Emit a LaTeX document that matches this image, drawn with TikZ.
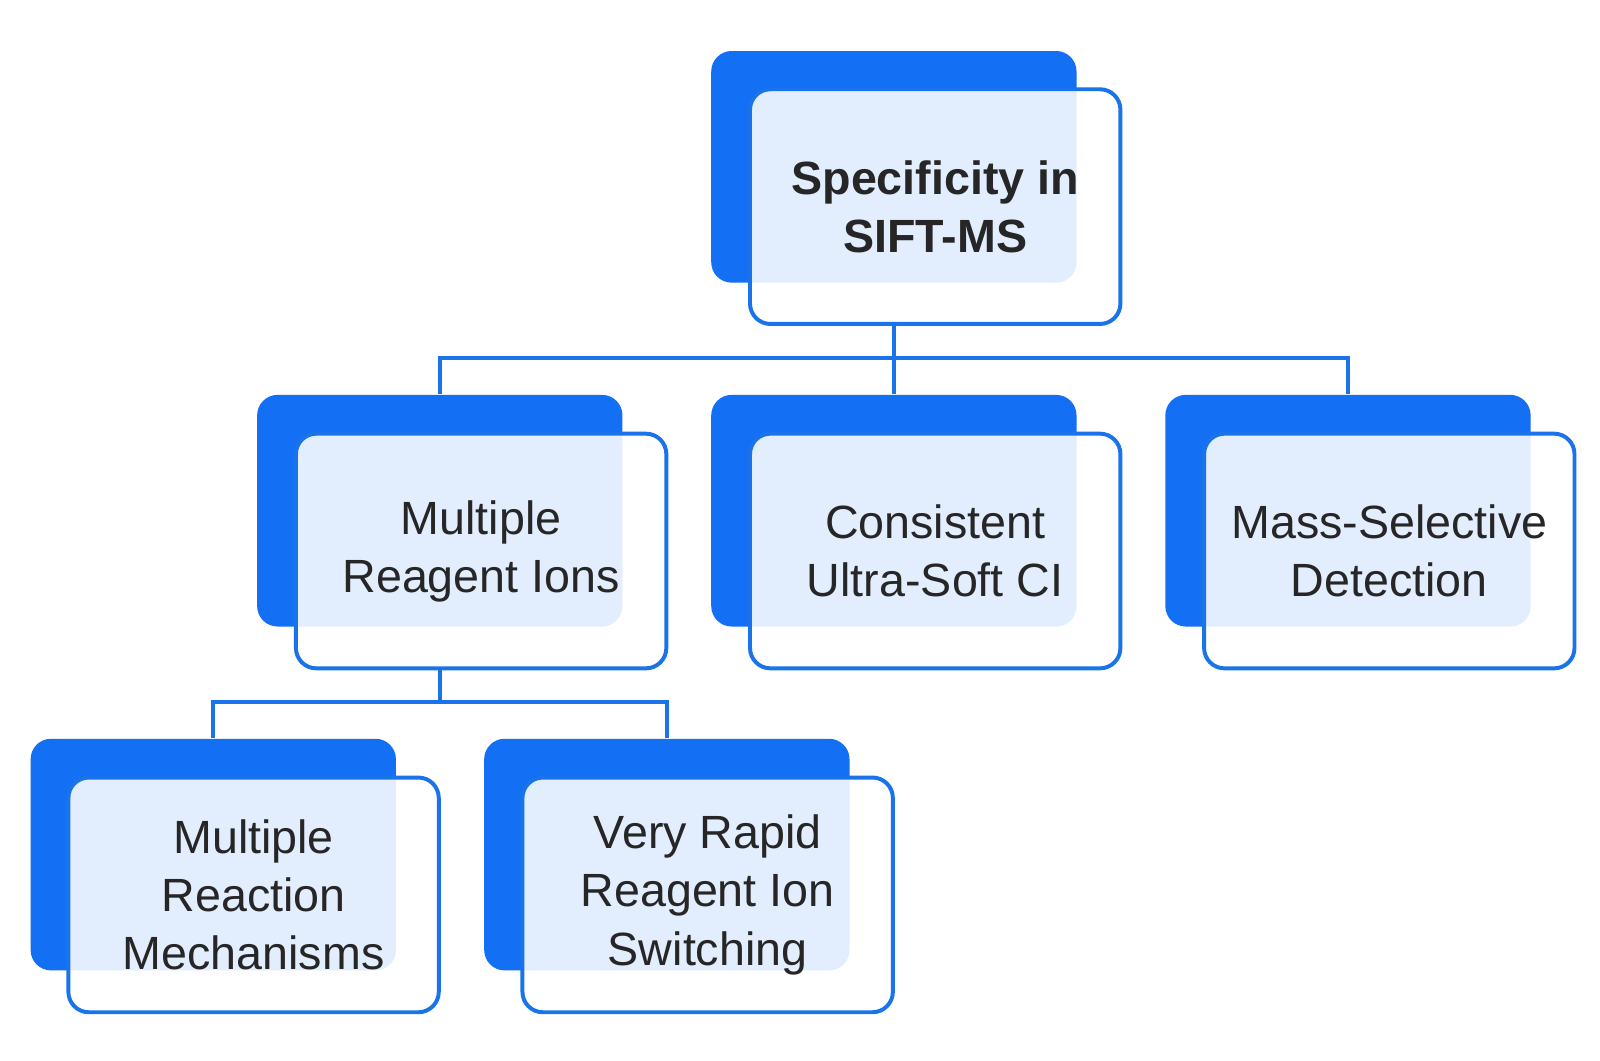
\documentclass[tikz,border=0pt]{standalone}
\usepackage{fontspec}
\setmainfont{Liberation Sans}
\usetikzlibrary{positioning}
\definecolor{boxblue}{HTML}{1370F5}
\definecolor{lineblue}{HTML}{1A73E8}
\tikzset{%
back/.style={fill=boxblue,rounded corners=0.2cm,minimum width=3.58cm,minimum height=2.27cm,inner sep=0},
front/.style={draw=lineblue,line width=1.1pt,fill=white,fill opacity=0.88,text opacity=1,
  rounded corners=0.2cm,minimum width=3.63cm,minimum height=2.3cm,align=center,
  font=\fontsize{13}{16.2}\selectfont,text=black!85},
link/.style={draw=lineblue,line width=1.1pt}
}
\begin{document}
\begin{tikzpicture}
  \useasboundingbox[fill=white] (0,0.21) rectangle (15.68,10.6);

  % top
  \node[back] (topb) at (8.76,8.965) {};
  \node[front,font=\fontsize{13}{16.2}\selectfont\bfseries] (top) at (9.165,8.575) {Specificity in\\SIFT-MS};

  % second level
  \node[back] (ionb) at (4.31,5.595) {};
  \node[front] (ion) at (4.715,5.2) {Multiple\\Reagent Ions};
  \node[back] (cib) at (8.76,5.595) {};
  \node[front] (ci) at (9.165,5.2) {Consistent\\Ultra-Soft CI};
  \node[back] (detb) at (13.21,5.595) {};
  \node[front] (det) at (13.615,5.2) {Mass-Selective\\Detection};

  % third level
  \node[back] (mechb) at (2.09,2.225) {};
  \node[front] (mech) at (2.485,1.83) {Multiple\\Reaction\\Mechanisms};
  \node[back] (swb) at (6.535,2.225) {};
  \node[front] (sw) at (6.935,1.83) {Very Rapid\\Reagent Ion\\Switching};

  % connectors
  \coordinate (j1) at (8.76,7.09);
  \coordinate (j2) at (4.31,3.72);
  \draw[link] (topb |- top.south) -- (j1);
  \draw[link] (ionb.north) |- (j1) -| (detb.north);
  \draw[link] (j1) -- (cib.north);
  \draw[link] (ionb |- ion.south) -- (j2);
  \draw[link] (mechb.north) |- (j2) -| (swb.north);
\end{tikzpicture}
\end{document}
